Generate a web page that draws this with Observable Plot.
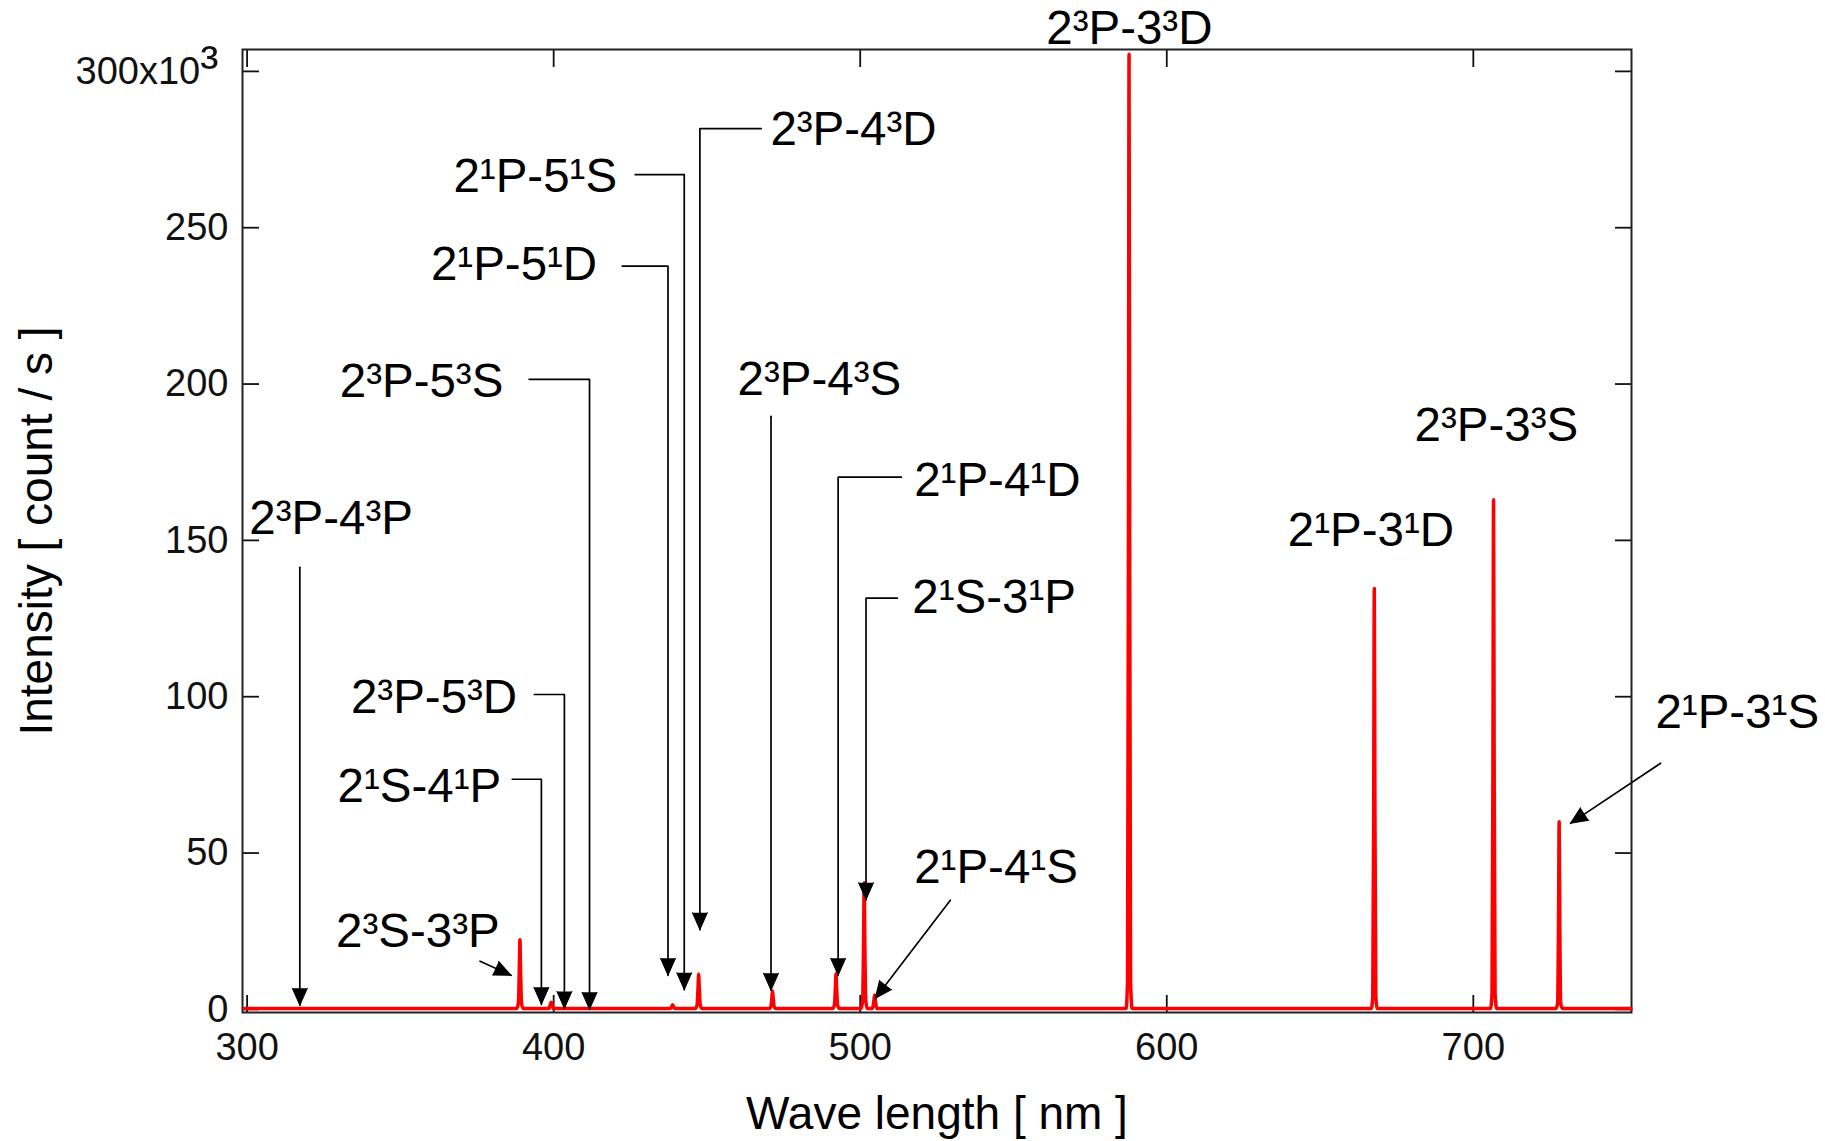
<!DOCTYPE html>
<html>
<head>
<meta charset="utf-8">
<script src="https://cdn.jsdelivr.net/npm/d3@7"></script>
<script src="https://cdn.jsdelivr.net/npm/@observablehq/plot@0.6"></script>
<style>
  html, body { margin: 0; padding: 0; background: #fff; }
  #chart svg { display: block; }
</style>
</head>
<body>
<div id="chart"></div>
<script>
// ---- Spectrum (wavelength in nm, intensity in 10^3 count/s) ----
const wavelength = [299.0,
  388.0, 388.5, 388.8, 389.0, 389.2, 389.5, 390.0,
  398.5, 399.0, 399.2, 399.4, 399.9,
  438.2, 438.8, 439.4,
  446.3, 446.8, 447.1, 447.3, 447.5, 447.8, 448.3,
  470.4, 470.9, 471.2, 471.4, 471.6, 471.9, 472.4,
  491.1, 491.6, 491.9, 492.1, 492.3, 492.6, 493.1,
  500.3, 500.8, 501.1, 501.3, 501.5, 501.8, 502.3,
  504.0, 504.4, 504.7, 505.0, 505.4,
  586.7, 587.2, 587.5, 587.7, 587.9, 588.2, 588.7,
  666.7, 667.2, 667.5, 667.7, 667.9, 668.2, 668.7,
  705.6, 706.1, 706.4, 706.6, 706.8, 707.1, 707.6,
  727.0, 727.5, 727.8, 728.0, 728.2, 728.5, 729.0,
  751.5];
const intensity = [0.3,
  0.3, 2.2, 13, 22.3, 13, 2.2, 0.3,
  0.3, 1.9, 2.3, 1.9, 0.3,
  0.3, 1.5, 0.3,
  0.3, 1.5, 7, 11.2, 7, 1.5, 0.3,
  0.3, 1.0, 3.8, 5.9, 3.8, 1.0, 0.3,
  0.3, 1.5, 7, 11.4, 7, 1.5, 0.3,
  0.3, 3, 22, 40.5, 22, 3, 0.3,
  0.3, 2.4, 4.6, 2.4, 0.3,
  0.3, 9, 150, 305.5, 150, 9, 0.3,
  0.3, 4, 66, 134.6, 66, 4, 0.3,
  0.3, 5, 80, 163.0, 80, 5, 0.3,
  0.3, 2, 29, 60.0, 29, 2, 0.3,
  0.3];

// ---- Axes ----
const xTicks = [300, 400, 500, 600, 700];
const yTicks = [0, 50, 100, 150, 200, 250, 300];
const yTickLabels = ["0", "50", "100", "150", "200", "250", "300x10³"];
const xTitle = "Wave length [ nm ]";
const yTitle = "Intensity [ count / s ]";

// ---- Line labels ----
const labelText = ["2³P-4³P", "2³S-3³P", "2¹S-4¹P", "2³P-5³D", "2³P-5³S", "2¹P-5¹D", "2¹P-5¹S", "2³P-4³D",
                   "2³P-4³S", "2¹P-4¹D", "2¹S-3¹P", "2¹P-4¹S", "2³P-3³D", "2¹P-3¹D", "2³P-3³S", "2¹P-3¹S"];
const labelX = [327.4, 355.7, 382.9, 388.1, 383.6, 414.2, 420.7, 470.7,
                486.7, 517.6, 517.0, 517.6, 587.8, 666.6, 707.5, 786.1];
const labelY = [157.0, 24.9, 71.2, 99.5, 200.8, 238.1, 266.4, 281.4,
                201.2, 169.2, 131.6, 45.3, 313.6, 153.0, 186.8, 94.8];
const labelAnchor = ["middle", "middle", "end", "end", "end", "end", "end", "start",
                     "middle", "start", "start", "start", "middle", "middle", "middle", "middle"];

// ---- Leader lines (nm, 10^3 count/s), arrow head at last point ----
const leaderPaths = [
  [[317.2, 141.4], [317.2, 1.3]],
  [[376.0, 15.4], [386.1, 10.9]],
  [[386.5, 73.6], [396.0, 73.6], [396.0, 1.6]],
  [[393.7, 100.7], [403.5, 100.7], [403.5, 0.3]],
  [[392.0, 201.5], [411.7, 201.5], [411.7, 0.0]],
  [[422.4, 237.7], [437.3, 237.7], [437.3, 10.9]],
  [[426.6, 267.0], [442.6, 267.0], [442.6, 6.3]],
  [[467.7, 281.7], [447.7, 281.7], [447.7, 25.5]],
  [[470.9, 189.7], [470.9, 6.1]],
  [[513.4, 170.2], [492.8, 170.2], [492.8, 10.9]],
  [[512.1, 131.5], [501.9, 131.5], [501.9, 35.1]],
  [[529.4, 34.9], [504.9, 3.5]],
  [[761.1, 78.7], [731.7, 59.5]]
];

// ---- build tables ----
const spectrum = wavelength.map((x, i) => ({x, y: intensity[i]}));
const labels = labelText.map((t, i) => ({t, x: labelX[i], y: labelY[i], a: labelAnchor[i]}));
const leaderRows = leaderPaths.flatMap((pts, i) => pts.map(([x, y]) => ({id: i, x, y})));
const heads = leaderPaths.map((pts, i) => {
  const a = pts[pts.length - 2], b = pts[pts.length - 1];
  return {id: i, x0: a[0], y0: a[1], x: b[0], y: b[1]};
});
const topTick = [{v: yTicks[yTicks.length - 1], t: yTickLabels[yTickLabels.length - 1]}];

const FONT = "'Liberation Sans', Arial, Helvetica, sans-serif";
const INK = "#111";

function makePlot(rot) {
  const textMark = (anchor) => Plot.text(labels.filter(d => d.a === anchor), {
    x: "x", y: "y", text: "t", textAnchor: anchor, lineAnchor: "middle",
    fontSize: 47.5, fill: "#000", className: "linelabel"
  });
  return Plot.plot({
    width: 1825,
    height: 1141,
    marginLeft: 242,
    marginRight: 194,
    marginTop: 49,
    marginBottom: 129,
    style: {fontFamily: FONT, background: "#fff", color: INK, overflow: "visible"},
    x: {domain: [298.5, 751.6]},
    y: {domain: [-1.0, 307.0]},
    marks: [
      Plot.axisX({anchor: "bottom", ticks: xTicks, tickSize: -17, tickPadding: 38, strokeWidth: 1.8,
                  fontSize: 38, label: null, tickFormat: d => String(d)}),
      Plot.axisX({anchor: "top", ticks: xTicks, tickSize: -17, strokeWidth: 1.8, label: null, tickFormat: () => ""}),
      Plot.axisY({anchor: "left", ticks: yTicks, tickSize: -17, tickPadding: 31, strokeWidth: 1.8,
                  fontSize: 38, label: null,
                  tickFormat: d => (d === yTicks[yTicks.length - 1] ? "" : yTickLabels[yTicks.indexOf(d)])}),
      Plot.axisY({anchor: "right", ticks: yTicks, tickSize: -17, strokeWidth: 1.8, label: null, tickFormat: () => ""}),
      Plot.text(topTick, {y: "v", text: "t", frameAnchor: "left", dx: -24, textAnchor: "end",
                          lineAnchor: "middle", fontSize: 38, fill: INK, className: "ticksup"}),
      Plot.frame({stroke: "#222", strokeWidth: 2}),
      Plot.line(spectrum, {x: "x", y: "y", stroke: "#ff0000", strokeWidth: 3.5,
                           strokeLinejoin: "round", curve: "monotone-x"}),
      Plot.line(leaderRows, {x: "x", y: "y", z: "id", stroke: "#000", strokeWidth: 1.7}),
      Plot.vector(heads, {x: "x", y: "y", rotate: (d, i) => rot[i], length: 17, r: 7.5,
                          anchor: "end", shape: "spike", fill: "#000", fillOpacity: 1,
                          stroke: "#000", strokeWidth: 1}),
      textMark("start"), textMark("middle"), textMark("end"),
      Plot.text([xTitle], {frameAnchor: "bottom", dy: 84, textAnchor: "middle", lineAnchor: "top",
                           fontSize: 46, fill: "#000"}),
      Plot.text([yTitle], {frameAnchor: "left", dx: -223, rotate: -90, textAnchor: "middle",
                           lineAnchor: "top", fontSize: 46, fill: "#000"})
    ]
  });
}

const first = makePlot(heads.map(() => 180));
const sx = first.scale("x"), sy = first.scale("y");
const rot = heads.map(h => {
  const dx = sx.apply(h.x) - sx.apply(h.x0);
  const dy = sy.apply(h.y) - sy.apply(h.y0);
  return Math.atan2(dx, -dy) * 180 / Math.PI;
});
const chart = makePlot(rot);
document.getElementById("chart").append(chart);

// Enlarge the superscript in the "300x10³" tick label (it is drawn near full size in the original)
const NS = "http://www.w3.org/2000/svg";
chart.querySelectorAll("g.ticksup text").forEach(t => {
  const s = t.textContent;
  t.textContent = "";
  for (const part of s.match(/[¹²³]+|[^¹²³]+/g)) {
    const ts = document.createElementNS(NS, "tspan");
    if (/[¹²³]/.test(part)) ts.setAttribute("font-size", "55");
    ts.textContent = part;
    t.appendChild(ts);
  }
});
</script>
</body>
</html>
